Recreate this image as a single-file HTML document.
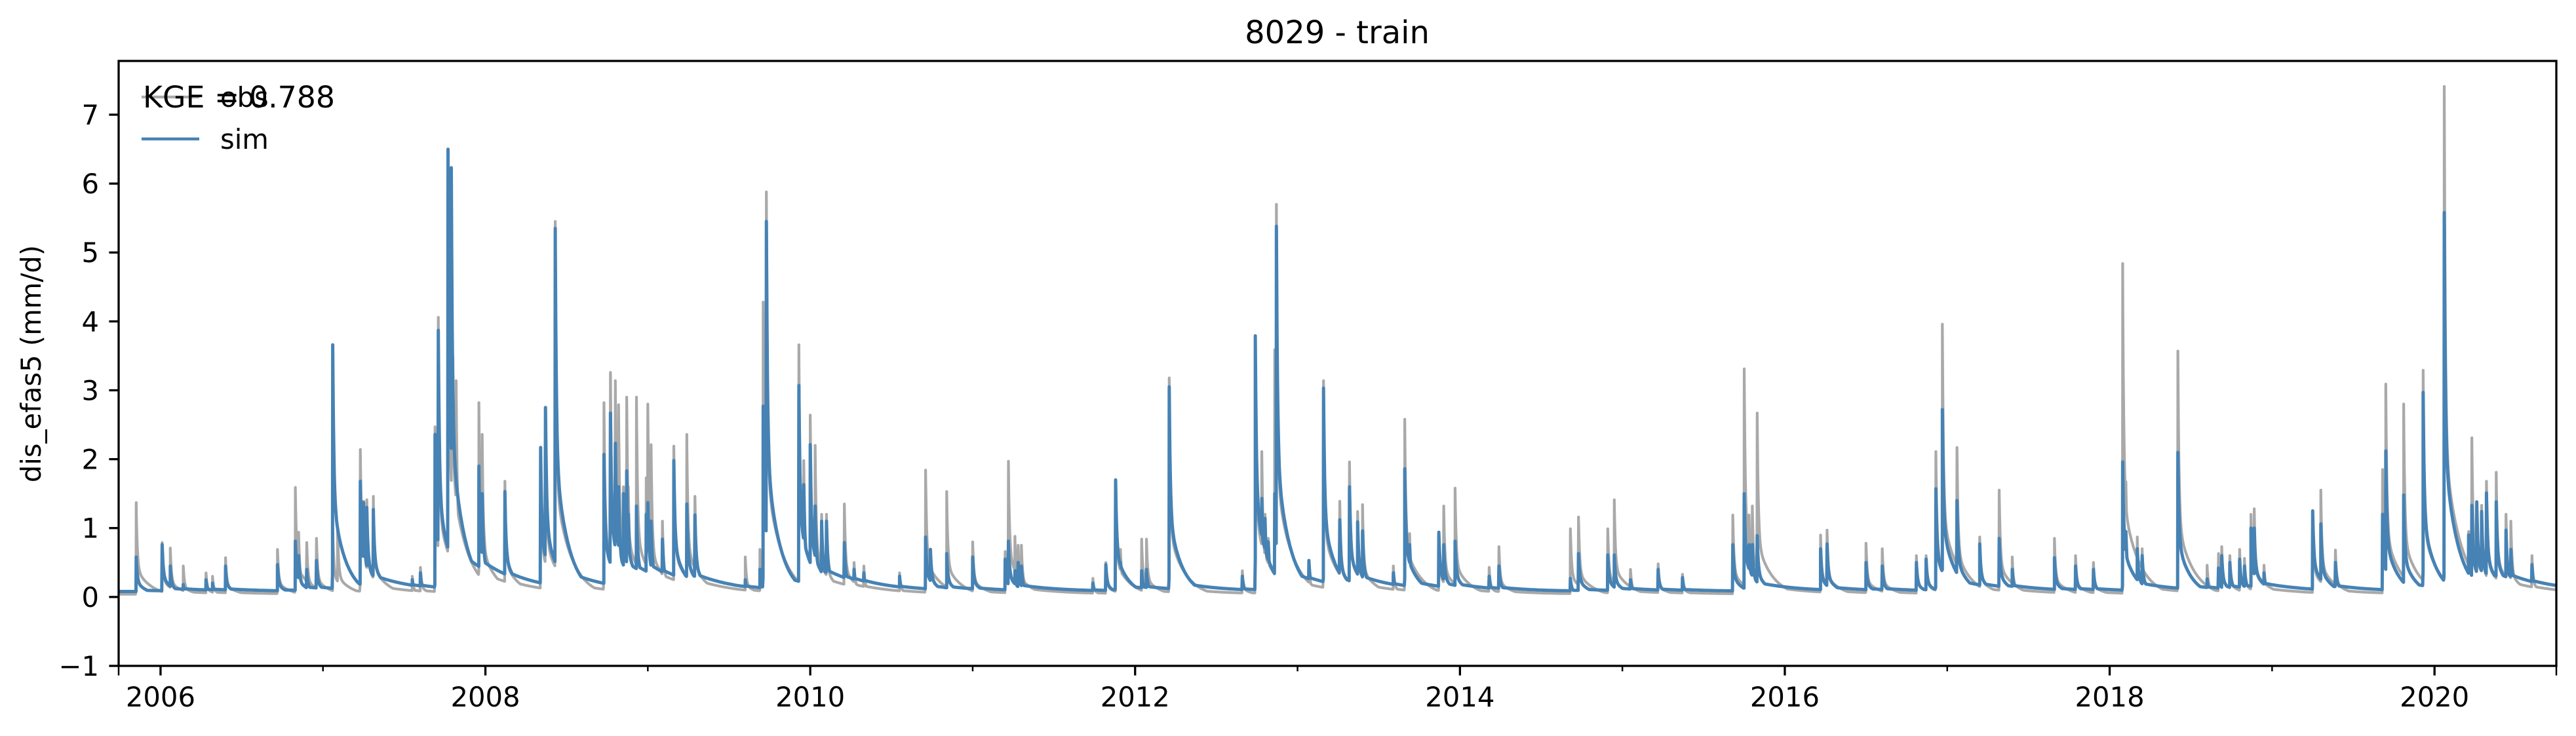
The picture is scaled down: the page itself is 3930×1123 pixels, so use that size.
<!DOCTYPE html>
<html><head><meta charset="utf-8"><style>
html,body{margin:0;padding:0;background:#fff;}
svg text{font-family:"DejaVu Sans","Liberation Sans",sans-serif;fill:#000;}
</style></head><body>
<svg id="chart" width="3930" height="1118" viewBox="0 0 3930 1118" xmlns="http://www.w3.org/2000/svg">
<rect x="0" y="0" width="3930" height="1118" fill="#fff"/>
<text x="2040" y="66" font-size="48" text-anchor="middle">8029 - train</text>
<text transform="translate(62,555) rotate(-90)" font-size="41.7" text-anchor="middle">dis_efas5 (mm/d)</text>
<g id="plot"></g>
<g id="axes"></g>
<g>
<line x1="216" y1="148" x2="304" y2="148" stroke="#a9a9a9" stroke-width="4.2"/>
<text x="336" y="163" font-size="41.7">obs</text>
<line x1="216" y1="212" x2="304" y2="212" stroke="#4682b4" stroke-width="4.5"/>
<text x="336" y="227" font-size="41.7">sim</text>
</g>
<text x="218" y="164" font-size="45.8">KGE = 0.788</text>
</svg>
<script>
// event dates (decimal year), observed and simulated peak discharge (mm/d)
const eventDates = [2005.85,2006.01,2006.06,2006.14,2006.28,2006.32,2006.40,2006.72,2006.83,2006.85,2006.90,2006.96,2007.06,2007.09,2007.23,2007.25,2007.27,2007.31,2007.55,2007.60,2007.69,2007.71,2007.77,2007.79,2007.80,2007.82,2007.96,2007.98,2008.12,2008.34,2008.37,2008.43,2008.73,2008.77,2008.80,2008.82,2008.85,2008.87,2008.88,2008.93,2008.99,2009.00,2009.02,2009.09,2009.16,2009.24,2009.29,2009.60,2009.69,2009.71,2009.73,2009.93,2009.96,2010.00,2010.03,2010.07,2010.10,2010.21,2010.27,2010.33,2010.55,2010.71,2010.74,2010.84,2011.00,2011.20,2011.22,2011.26,2011.28,2011.30,2011.74,2011.82,2011.88,2011.91,2012.04,2012.07,2012.21,2012.26,2012.66,2012.74,2012.78,2012.80,2012.82,2012.86,2012.87,2013.07,2013.16,2013.26,2013.32,2013.37,2013.40,2013.59,2013.66,2013.69,2013.87,2013.90,2013.97,2014.18,2014.24,2014.68,2014.73,2014.91,2014.95,2015.05,2015.22,2015.37,2015.68,2015.75,2015.78,2015.80,2015.83,2016.22,2016.26,2016.50,2016.60,2016.81,2016.87,2016.93,2016.97,2017.06,2017.20,2017.32,2017.40,2017.66,2017.79,2017.90,2018.08,2018.10,2018.17,2018.20,2018.42,2018.60,2018.67,2018.69,2018.74,2018.80,2018.83,2018.87,2018.89,2018.95,2019.25,2019.30,2019.39,2019.68,2019.70,2019.81,2019.93,2020.06,2020.21,2020.23,2020.26,2020.29,2020.32,2020.38,2020.44,2020.47,2020.60];
const obsPeaks = [1.37,0.79,0.71,0.45,0.35,0.3,0.57,0.69,1.59,0.94,0.79,0.85,1.0,1.0,2.14,1.39,1.41,1.46,0.3,0.43,2.47,4.06,6.0,6.2,3.49,3.14,2.82,2.36,1.68,2.17,2.75,5.45,2.82,3.26,3.14,2.79,1.6,2.9,1.6,2.9,1.73,2.8,2.21,1.1,2.19,2.36,1.46,0.58,0.69,4.28,5.88,3.66,1.98,2.64,2.2,1.2,1.2,1.35,0.5,0.45,0.35,1.84,0.69,1.53,0.8,0.66,1.97,0.88,0.75,0.75,0.27,0.5,1.7,0.69,0.84,0.84,3.18,0.58,0.38,3.79,2.11,1.2,0.85,3.59,5.70,0.5,3.14,1.39,1.96,1.24,1.34,0.45,2.58,0.92,0.94,1.32,1.58,0.43,0.73,0.99,1.16,0.99,1.41,0.4,0.48,0.33,1.19,3.31,1.19,1.32,2.67,0.9,0.97,0.78,0.7,0.6,0.6,2.11,3.96,2.17,0.87,1.55,0.58,0.85,0.6,0.5,4.84,1.67,0.87,0.7,3.57,0.46,0.63,0.73,0.6,0.69,0.56,1.2,1.28,0.46,1.25,1.55,0.68,1.85,3.09,2.80,3.29,7.41,0.95,2.31,1.33,1.33,1.68,1.81,1.2,1.1,0.6];
const simPeaks = [0.58,0.76,0.45,0.18,0.25,0.2,0.45,0.47,0.81,0.6,0.4,0.53,3.66,1.0,1.68,1.37,1.3,1.27,0.25,0.35,2.36,3.87,6.50,6.23,1.4,1.3,1.9,1.5,1.53,2.17,2.75,5.35,2.07,2.67,2.23,1.6,1.5,1.83,1.2,1.32,1.2,1.37,1.1,0.84,1.98,1.35,1.19,0.25,0.4,2.77,5.45,3.07,1.63,2.21,1.32,1.1,1.1,0.79,0.4,0.35,0.3,0.87,0.69,0.63,0.58,0.55,0.81,0.38,0.5,0.45,0.2,0.47,1.70,0.5,0.38,0.4,3.05,0.58,0.3,3.79,1.43,1.14,0.8,1.5,5.38,0.53,3.03,1.12,1.6,1.09,0.96,0.35,1.86,0.76,0.94,0.76,0.81,0.3,0.45,0.27,0.63,0.61,0.61,0.25,0.4,0.28,0.76,1.50,0.76,0.76,0.89,0.7,0.77,0.5,0.45,0.5,0.55,1.57,2.72,1.4,0.77,0.85,0.4,0.57,0.45,0.4,1.96,0.95,0.7,0.6,2.10,0.26,0.42,0.6,0.5,0.55,0.45,1.0,1.0,0.35,1.25,1.06,0.5,1.2,2.12,1.48,2.97,5.58,0.9,1.33,1.38,1.24,1.51,1.38,0.97,0.69,0.47];
const yTickValues = [-1,0,1,2,3,4,5,6,7];
const xTickYears = [2006,2008,2010,2012,2014,2016,2018,2020];
const xMinorYears = [2007,2009,2011,2013,2015,2017,2019];

const NS = "http://www.w3.org/2000/svg";
const X0 = 181, X1 = 3900, Y0 = 1016, Y1 = 93;
const D0 = 2005.742, D1 = 2020.75, V0 = -1, V1 = 7.78;
function xScale(d){ return X0 + (d - D0) / (D1 - D0) * (X1 - X0); }
function yScale(v){ return Y0 - (v - V0) / (V1 - V0) * (Y0 - Y1); }

function series(peaks, base, slowFrac, slowTau, fastTau, vslowFrac){
  const times = [];
  for (let t = D0; t <= D1; t += 1/365.25) times.push(t);
  eventDates.forEach(d => times.push(d));
  times.sort((a, b) => a - b);
  const pts = [];
  times.forEach(t => {
    let v = base;
    let tail = 0;
    for (let i = 0; i < eventDates.length; i++){
      const dt = (t - eventDates[i]) * 365.25;
      if (dt < -1 || dt > 400) continue;
      let c;
      if (dt < 0) c = peaks[i] * 0.15 * (1 + dt);
      else {
        c = peaks[i] * ((1 - slowFrac) * Math.exp(-dt / fastTau) + slowFrac * Math.exp(-dt / slowTau));
        tail += peaks[i] * vslowFrac * Math.exp(-dt / 90);
      }
      if (c > v) v = c;
    }
    v = Math.max(v, base + Math.min(tail, 0.5));
    pts.push(xScale(t).toFixed(1) + "," + yScale(v).toFixed(1));
  });
  return pts.join(" ");
}

const plot = document.getElementById("plot");
const obsLine = document.createElementNS(NS, "polyline");


obsLine.setAttribute("points", series(obsPeaks, 0.04, 0.3, 35, 2.5, 0.02));
obsLine.setAttribute("fill", "none");
obsLine.setAttribute("stroke", "#a9a9a9");
obsLine.setAttribute("stroke-width", "4.2");
obsLine.setAttribute("stroke-linejoin", "round");
plot.appendChild(obsLine);
const simLine = document.createElementNS(NS, "polyline");


simLine.setAttribute("points", series(simPeaks, 0.08, 0.38, 30, 2.5, 0.035));
simLine.setAttribute("fill", "none");
simLine.setAttribute("stroke", "#4682b4");
simLine.setAttribute("stroke-width", "5");
simLine.setAttribute("stroke-linejoin", "round");
plot.appendChild(simLine);

const axes = document.getElementById("axes");
const frame = document.createElementNS(NS, "rect");


frame.setAttribute("x", X0); frame.setAttribute("y", Y1);
frame.setAttribute("width", X1 - X0); frame.setAttribute("height", Y0 - Y1);
frame.setAttribute("fill", "none"); frame.setAttribute("stroke", "#000"); frame.setAttribute("stroke-width", "3.3");
axes.appendChild(frame);

yTickValues.forEach(v => {
  const y = yScale(v);
  const tk = document.createElementNS(NS, "line");
  
  
  tk.setAttribute("x1", X0 - 14.6); tk.setAttribute("x2", X0); tk.setAttribute("y1", y); tk.setAttribute("y2", y);
  tk.setAttribute("stroke", "#000"); tk.setAttribute("stroke-width", "3.3");
  axes.appendChild(tk);
  const tx = document.createElementNS(NS, "text");
  
  
  tx.setAttribute("x", X0 - 30); tx.setAttribute("y", y + 15);
  tx.setAttribute("font-size", "41.7"); tx.setAttribute("text-anchor", "end");
  tx.textContent = v < 0 ? "\u2212" + Math.abs(v) : String(v);
  axes.appendChild(tx);
});
xTickYears.forEach(yr => {
  const x = xScale(yr);
  const tk = document.createElementNS(NS, "line");
  
  
  tk.setAttribute("x1", x); tk.setAttribute("x2", x); tk.setAttribute("y1", Y0); tk.setAttribute("y2", Y0 + 14.6);
  tk.setAttribute("stroke", "#000"); tk.setAttribute("stroke-width", "3.3");
  axes.appendChild(tk);
  const tx = document.createElementNS(NS, "text");
  
  
  tx.setAttribute("x", x); tx.setAttribute("y", Y0 + 62);
  tx.setAttribute("font-size", "41.7"); tx.setAttribute("text-anchor", "middle");
  tx.textContent = String(yr);
  axes.appendChild(tx);
});
xMinorYears.concat([D0, D1]).forEach(yr => {
  const x = xScale(yr);
  const tk = document.createElementNS(NS, "line");
  
  
  tk.setAttribute("x1", x); tk.setAttribute("x2", x); tk.setAttribute("y1", Y0); tk.setAttribute("y2", Y0 + (yr === D0 || yr === D1 ? 14.6 : 8.3));
  tk.setAttribute("stroke", "#000"); tk.setAttribute("stroke-width", "2.5");
  axes.appendChild(tk);
});
</script>
</body></html>
